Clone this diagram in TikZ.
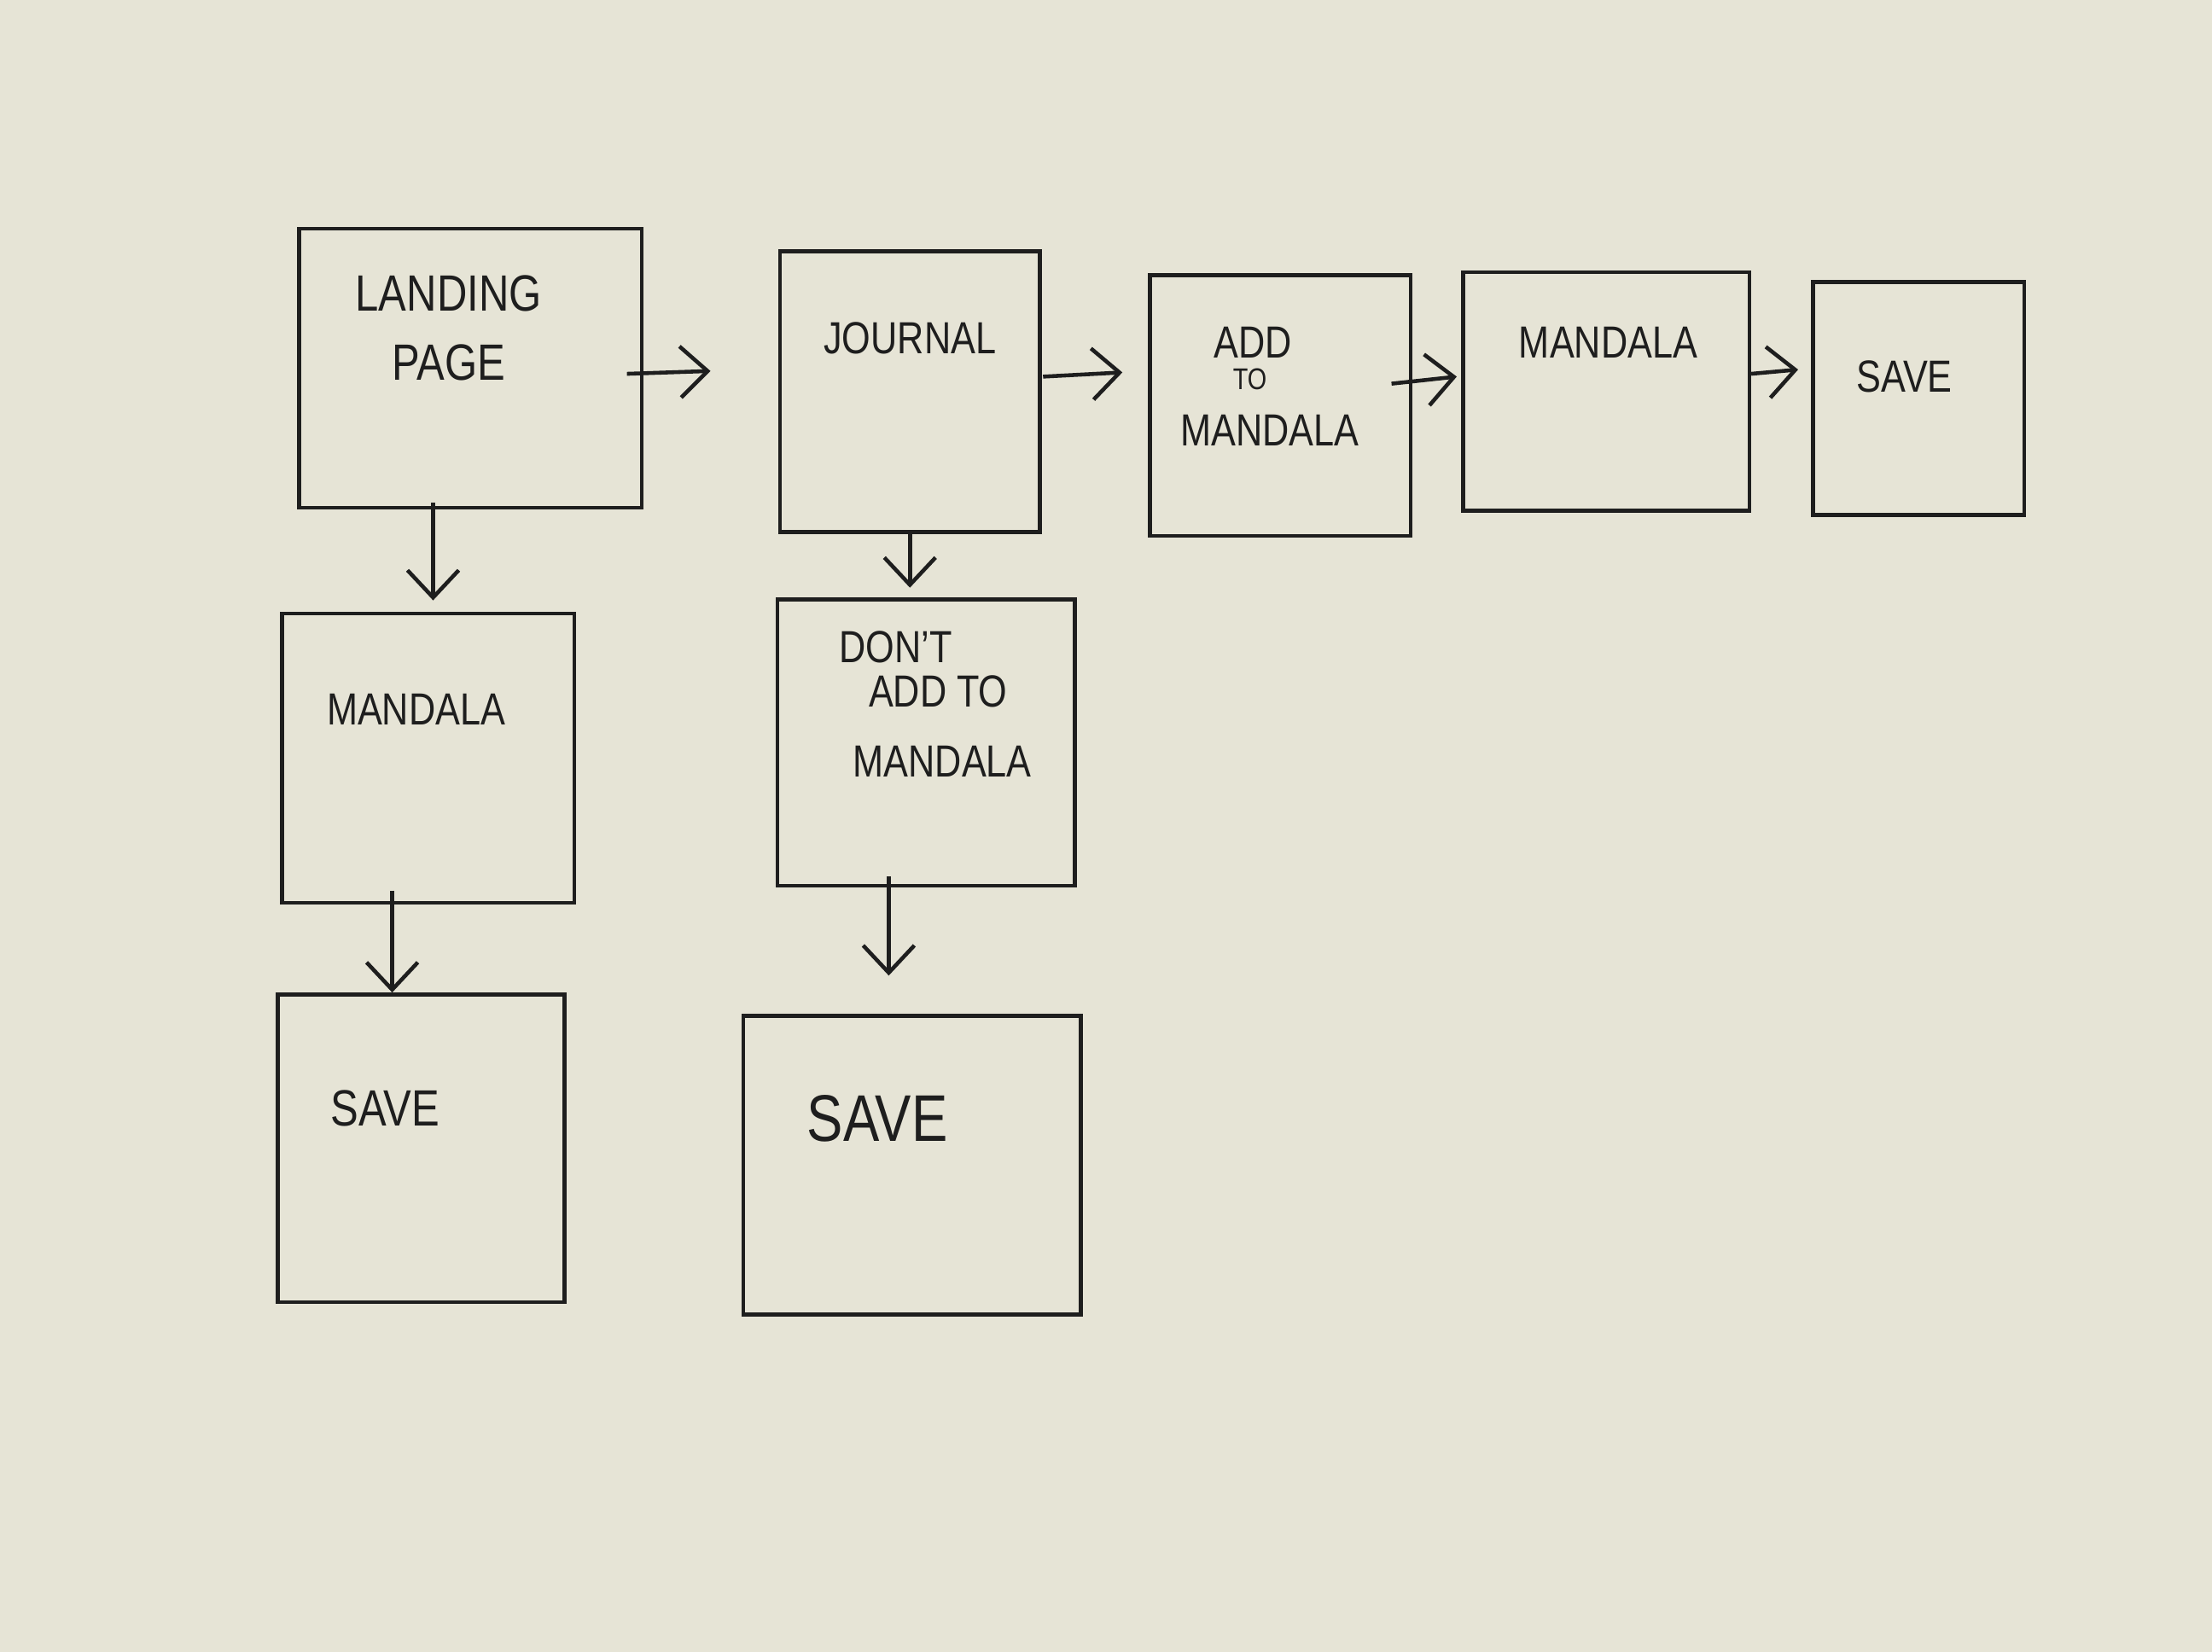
\documentclass[tikz,border=0pt]{standalone}
\usepackage{fontspec}
\setmainfont{Liberation Sans}[FakeStretch=0.82]
\usetikzlibrary{arrows.meta,calc}
\newdimen\ux \ux=0.01653cm
\definecolor{paper}{RGB}{230,228,214}
\definecolor{ink}{RGB}{30,30,30}
\tikzset{
  box/.style={draw=ink, line width=1.3pt, inner sep=0pt},
  lbl/.style={text=ink, inner sep=0pt, font=\fontsize{15}{17}\selectfont},
  lblL/.style={text=ink, inner sep=0pt, font=\fontsize{17}{19}\selectfont},
  small/.style={text=ink, inner sep=0pt, font=\fontsize{10}{11}\selectfont},
  big/.style={text=ink, inner sep=0pt, font=\fontsize{22}{24}\selectfont},
  arr/.style={draw=ink, line width=1.3pt, -{Straight Barb[length=3.2mm,width=6mm,line width=1.3pt]}}
}
\begin{document}
\begin{tikzpicture}[x=0.01653cm, y=-0.01653cm]
\fill[paper] (0,0) rectangle (1568,1171);
\useasboundingbox (0,0) rectangle (1568,1171);
% boxes
\node[box, minimum width=243\ux, minimum height=198\ux] (lp)   at (333.5,261)   {};
\node[box, minimum width=184\ux, minimum height=199\ux] (jr)   at (645,277.5)   {};
\node[box, minimum width=185\ux, minimum height=185\ux] (add)  at (907.5,287.5) {};
\node[box, minimum width=203\ux, minimum height=169\ux] (md)   at (1138.5,277.5){};
\node[box, minimum width=150\ux, minimum height=165\ux] (sv)   at (1360,282.5)  {};
\node[box, minimum width=207\ux, minimum height=205\ux] (mdb)  at (303.5,537.5) {};
\node[box, minimum width=211\ux, minimum height=203\ux] (dont) at (656.5,526.5) {};
\node[box, minimum width=203\ux, minimum height=218\ux] (svb)  at (298.5,814)   {};
\node[box, minimum width=239\ux, minimum height=212\ux] (svc)  at (646.5,826)   {};
% labels
\node[lblL] (t1a) at (318,208) {LANDING};
\node[lblL] (t1b) at (318,257) {PAGE};
\node[lbl] (t2)  at (645,240) {JOURNAL};
\node[lbl] (t3a) at (888,243) {ADD};
\node[small] (t3b) at (886,269) {TO};
\node[lbl] (t3c) at (900,305) {MANDALA};
\node[lbl] (t4)  at (1140,243) {MANDALA};
\node[lbl] (t5)  at (1350,267) {SAVE};
\node[lbl] (t6)  at (295,503) {MANDALA};
\node[lbl] (t7a) at (635,459) {DON'T};
\node[lbl] (t7b) at (665,490) {ADD TO};
\node[lbl] (t7c) at (668,540) {MANDALA};
\node[lblL] (t8) at (273,786) {SAVE};
\node[big] (t9)  at (622,793) {SAVE};
% connectors
\draw[arr] ($(lp.east)+(-12,4)$) -- ($(jr.west)+(-48,-14.5)$);
\draw[arr] ($(jr.east)+(1,-10.5)$) -- ($(add.west)+(-18,-23.5)$);
\draw[arr] ($(add.east)+(-15,-15.5)$) -- ($(md.west)+(-3,-10.5)$);
\draw[arr] ($(md.east)+(0,-12.5)$) -- ($(sv.west)+(-9,-20.5)$);
\draw[arr] ($(lp.south)+(-26.5,-5)$) -- ($(mdb.north)+(3.5,-8)$);
\draw[arr] (jr.south) -- ($(dont.north)+(-11.5,-7)$);
\draw[arr] ($(mdb.south)+(-25.5,-10)$) -- ($(svb.north)+(-20.5,0)$);
\draw[arr] ($(dont.south)+(-26.5,-8)$) -- ($(svc.north)+(-16.5,-27)$);
\end{tikzpicture}
\end{document}
